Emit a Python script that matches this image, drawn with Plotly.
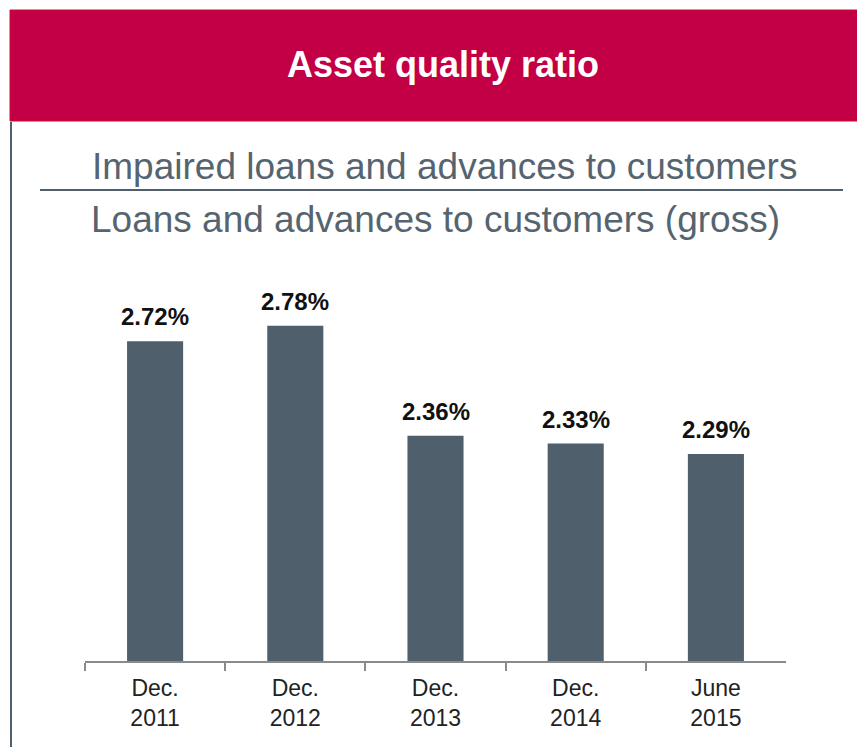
import plotly.graph_objects as go

categories = ["Dec.<br>2011", "Dec.<br>2012", "Dec.<br>2013", "Dec.<br>2014", "June<br>2015"]
ratios = [2.72, 2.78, 2.36, 2.33, 2.29]
labels = ["2.72%", "2.78%", "2.36%", "2.33%", "2.29%"]

# page body has an 8px margin, so the figure is drawn 8px in from the top-left
OFF = 8
W, H = 865 - OFF, 747 - OFF
def px(x): return (x - OFF) / W
def py(y): return (H - (y - OFF)) / H

BAR = "#4F5F6B"
RED = "#C30045"
GREY = "#56646F"
FONT = "Liberation Sans, Arial"

fig = go.Figure()
fig.add_trace(go.Bar(x=categories, y=ratios, marker_color=BAR, marker_line_width=0,
                     width=0.4, hoverinfo="skip"))

annotations = [
    dict(xref="x", yref="y", x=c, y=v, text="<b>" + t + "</b>", showarrow=False, yanchor="bottom",
         yshift=9, font=dict(family=FONT, size=24, color="#111111"))
    for c, v, t in zip(categories, ratios, labels)
]
annotations += [
    dict(xref="paper", yref="paper", x=px(443), y=py(65), text="<b>Asset quality ratio</b>",
         showarrow=False, xanchor="center", yanchor="middle",
         font=dict(family=FONT, size=36, color="white")),
    dict(xref="paper", yref="paper", x=px(445), y=py(166), text="Impaired loans and advances to customers",
         showarrow=False, xanchor="center", yanchor="middle",
         font=dict(family=FONT, size=37, color=GREY)),
    dict(xref="paper", yref="paper", x=px(435), y=py(219), text="Loans and advances to customers (gross)",
         showarrow=False, xanchor="center", yanchor="middle",
         font=dict(family=FONT, size=37, color=GREY)),
]

shapes = [
    dict(type="rect", xref="paper", yref="paper", x0=px(10), x1=px(866), y0=py(121), y1=py(10),
         fillcolor=RED, line=dict(color="#C8102E", width=1), layer="below"),
    dict(type="line", xref="paper", yref="paper", x0=px(11), x1=px(11), y0=py(122), y1=py(748),
         line=dict(color=BAR, width=2)),
    dict(type="line", xref="paper", yref="paper", x0=px(40), x1=px(843), y0=py(190), y1=py(190),
         line=dict(color=BAR, width=2)),
]

fig.update_layout(
    width=W, height=H, margin=dict(l=0, r=0, t=0, b=0),
    paper_bgcolor="white", plot_bgcolor="white", showlegend=False,
    annotations=annotations, shapes=shapes,
    xaxis=dict(domain=[px(85), px(786)], showline=True, linecolor="#8A8A8A", linewidth=1.5,
               ticks="outside", tickson="boundaries", ticklen=8, tickcolor="#8A8A8A", tickwidth=1.5,
               ticklabelstandoff=6,
               tickfont=dict(family=FONT, size=23, color="#222222"),
               showgrid=False, zeroline=False, fixedrange=True),
    yaxis=dict(domain=[py(661), py(268)], range=[1.5, 3.0], visible=False,
               showgrid=False, zeroline=False, fixedrange=True),
)

fig.write_html("out.html")
